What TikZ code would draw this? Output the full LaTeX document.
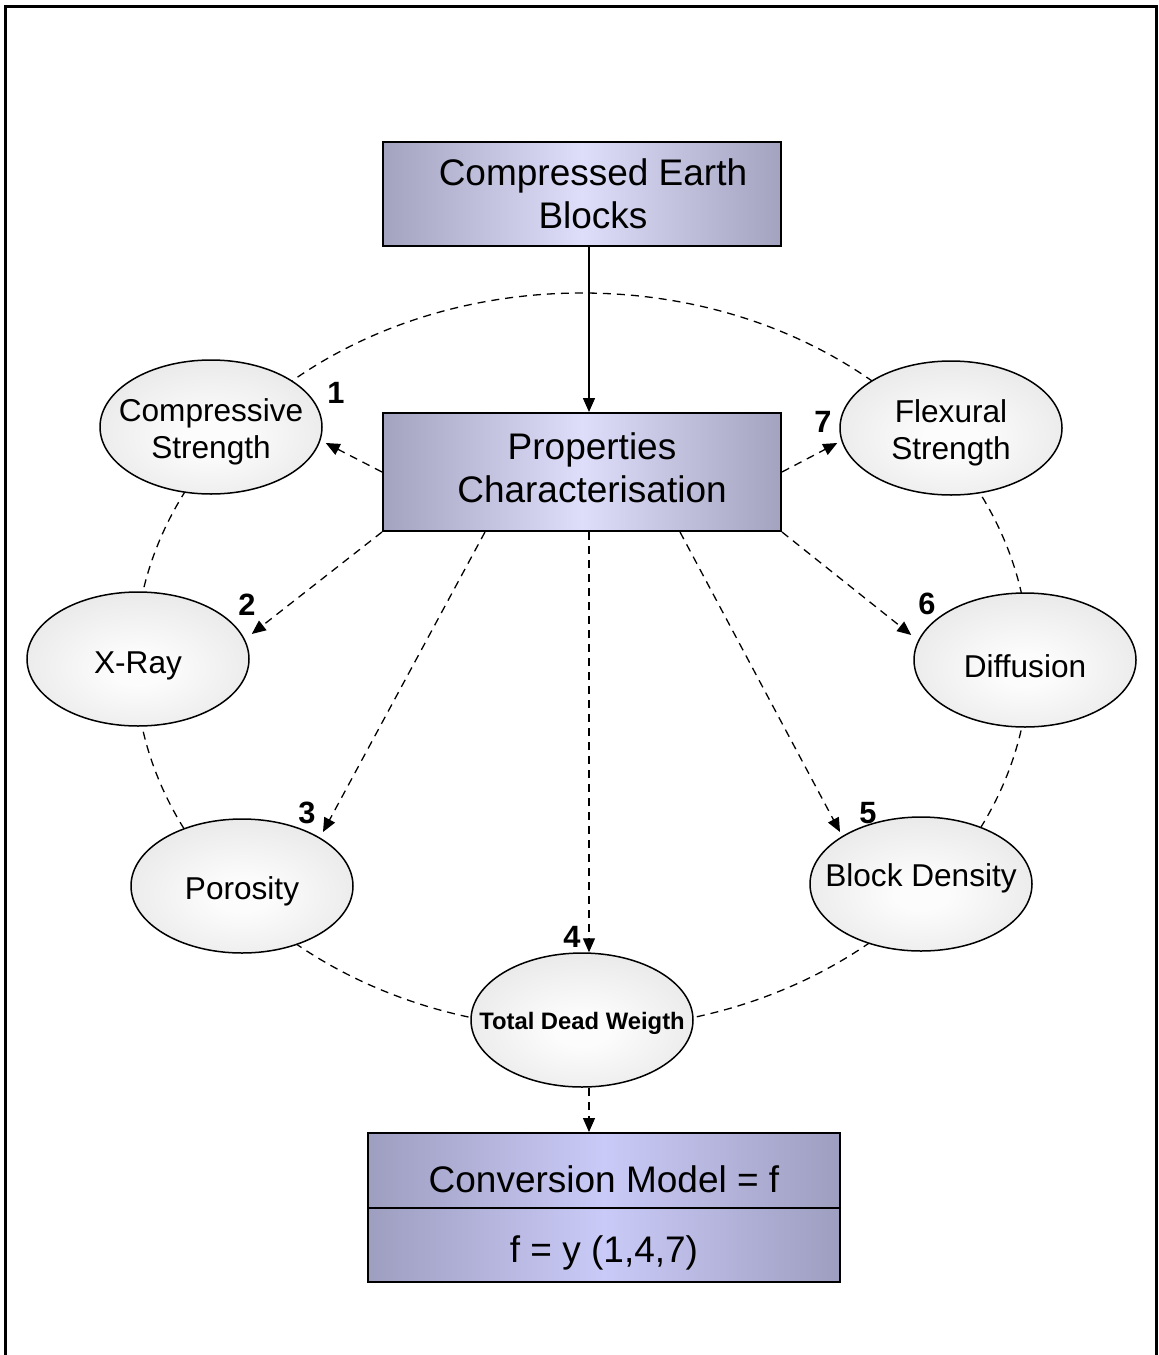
\documentclass[tikz,border=0pt]{standalone}
\usepackage{fontspec}
\setmainfont{Liberation Sans}
\usetikzlibrary{arrows.meta,shapes.geometric,shadings}
\definecolor{boxedge}{RGB}{163,163,192}
\definecolor{boxmid}{RGB}{222,222,250}
\definecolor{convedge}{RGB}{158,158,192}
\definecolor{convmid}{RGB}{202,202,248}
\definecolor{ellc0}{RGB}{252,252,252}
\definecolor{ellc1}{RGB}{232,232,232}
\definecolor{ellc2}{RGB}{210,210,210}
\pgfdeclareradialshading{ellshade}{\pgfpoint{0bp}{-4bp}}{color(0bp)=(ellc0); color(6bp)=(ellc0); color(30bp)=(ellc1); color(52bp)=(ellc2); color(80bp)=(ellc2)}
\tikzset{
  cbox/.style={draw=black, line width=1pt, rectangle, inner sep=0pt,
    left color=boxedge, right color=boxedge, middle color=boxmid},
  convbox/.style={draw=black, line width=1pt, rectangle, inner sep=0pt,
    minimum width=236pt, left color=convedge, right color=convedge, middle color=convmid},
  ell/.style={draw=black, line width=0.75pt, ellipse, inner sep=0pt,
    minimum width=111pt, minimum height=67pt, shading=ellshade},
  bigtext/.style={font=\fontsize{18.5}{21.5}\selectfont, align=center},
  elltext/.style={font=\fontsize{15.8}{18.5}\selectfont, align=center},
  num/.style={font=\fontsize{15.4}{18}\selectfont\bfseries, inner sep=0pt},
  dsh/.style={line width=0.65pt, dash pattern=on 4pt off 3pt},
  darr/.style={dsh, -{Triangle[length=7pt,width=6pt]}},
  sarr/.style={line width=0.75pt, -{Triangle[length=7pt,width=6pt]}},
}
\begin{document}
\begin{tikzpicture}[x=0.5pt,y=-0.5pt]
\useasboundingbox (0,0) rectangle (1158,1355);
\fill[white] (0,0) rectangle (1158,1355);
% frame
\draw[line width=1.7pt] (5.7,1355) -- (5.7,6.7) -- (1156.3,6.7) -- (1156.3,1355);
% big dashed ellipse
\draw[dsh] (582,661) ellipse [x radius=447, y radius=368];
% boxes
\node[cbox, minimum width=199pt, minimum height=52pt] (ceb) at (582,194) {};
\node[bigtext, xshift=5.5pt] (cebt) at (ceb.center) {Compressed Earth\\Blocks};
\node[cbox, minimum width=199pt, minimum height=59pt] (pc) at (582,472) {};
\node[bigtext, xshift=5pt, yshift=2pt] (pct) at (pc.center) {Properties\\Characterisation};
\node[convbox, minimum height=37.5pt] (conv1) at (604,1170.5) {};
\node[bigtext] (conv1t) at (604,1179) {Conversion Model = f};
\node[convbox, minimum height=37pt] (conv2) at (604,1245) {};
\node[bigtext] (conv2t) at (604,1253) {f = y (1,4,7)};
% ellipses
\node[ell] (cs) at (211,427) {};
\node[elltext] (cst) at (211,432) {Compressive\\Strength};
\node[ell] (fs) at (951,428) {};
\node[elltext] (fst) at (951,433) {Flexural\\Strength};
\node[ell] (xr) at (138,659) {};
\node[elltext] (xrt) at (138,666) {X-Ray};
\node[ell] (df) at (1025,660) {};
\node[elltext] (dft) at (1025,666) {Diffusion};
\node[ell] (po) at (242,886) {};
\node[elltext] (pot) at (242,891) {Porosity};
\node[ell] (bd) at (921,884) {};
\node[elltext] (bdt) at (921,878) {Block Density};
\node[ell] (td) at (582,1020) {};
\node[font=\fontsize{11.9}{14}\selectfont\bfseries] (tdt) at (582,1023) {Total Dead Weigth};
% numbers
\node[num] (n1) at (336,393) {1};
\node[num] (n2) at (247,605) {2};
\node[num] (n3) at (307,813) {3};
\node[num] (n4) at (572,937) {4};
\node[num] (n5) at (868,813) {5};
\node[num] (n6) at (927,604) {6};
\node[num] (n7) at (823,422) {7};
% connectors
\draw[sarr] ([shift={(7,0)}]ceb.south) -- ([shift={(7,0)}]pc.north);
\draw[darr] (pc.west) -- ([shift={(3,16)}]cs.east);
\draw[darr] (pc.east) -- ([shift={(-2,15)}]fs.west);
\draw[darr] (pc.south west) -- ([shift={(2,-25)}]xr.east);
\draw[darr] ([shift={(-97,0)}]pc.south) -- ([shift={(81,-54)}]po.center);
\draw[darr] ([shift={(7,0)}]pc.south) -- ([shift={(7,0)}]td.north);
\draw[darr] ([shift={(98,0)}]pc.south) -- ([shift={(-81,-52)}]bd.center);
\draw[darr] (pc.south east) -- ([shift={(-2,-25)}]df.west);
\draw[darr] ([shift={(7,0)}]td.south) -- ([shift={(-15,0)}]conv1.north);
\end{tikzpicture}
\end{document}
